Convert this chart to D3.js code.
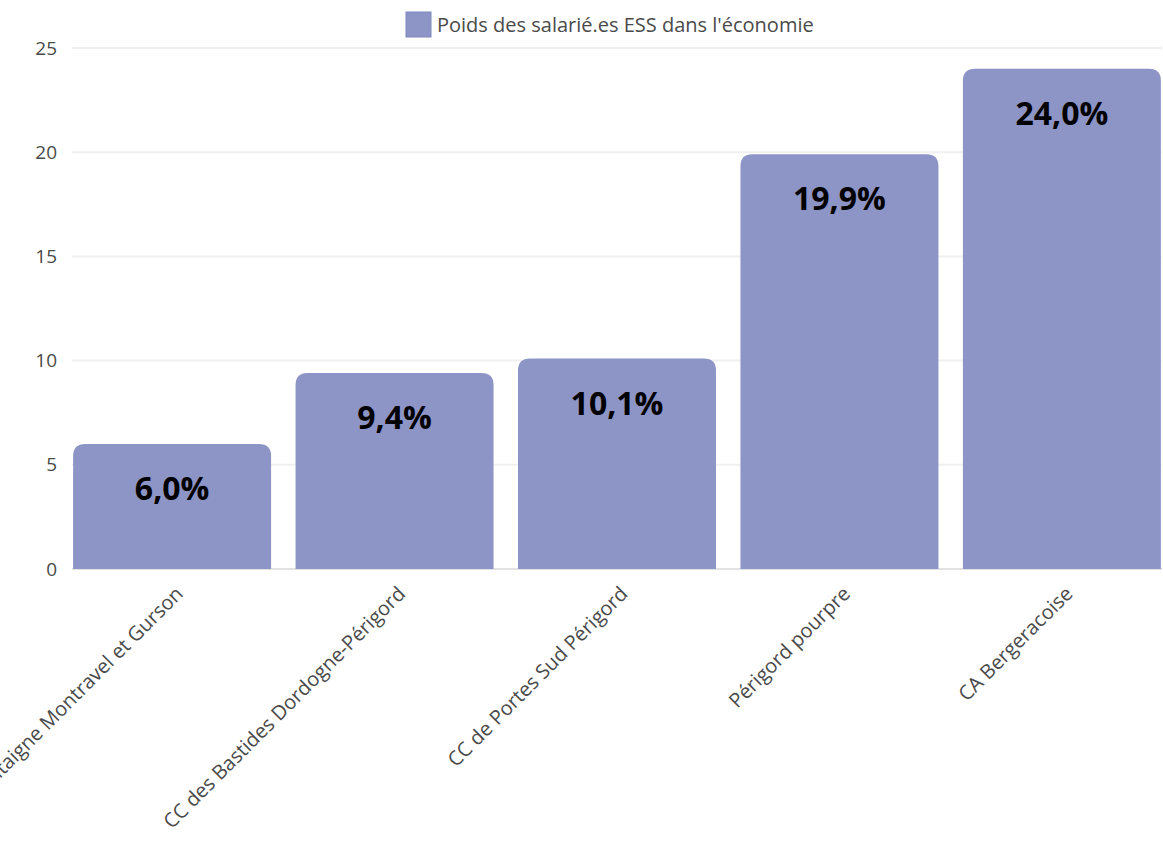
<!DOCTYPE html>
<html><head><meta charset="utf-8">
<script src="https://cdn.jsdelivr.net/npm/d3@7"></script>
<style>
body{margin:0;background:#fff;overflow:hidden;}
text{font-family:"Open Sans",sans-serif;}
</style></head>
<body><svg id="c" width="1163" height="857"></svg>
<script>
const categories = ["CC de Montaigne Montravel et Gurson","CC des Bastides Dordogne-Périgord","CC de Portes Sud Périgord","Périgord pourpre","CA Bergeracoise"];
const values = [6.0, 9.4, 10.1, 19.9, 24.0];
const yTicks = [0, 5, 10, 15, 20, 25];
const seriesName = "Poids des salarié.es ESS dans l'économie";

const svg = d3.select("#c");
const mLeft = 72, mRight = 1162, mTop = 48, mBottom = 569;
const x = d3.scaleBand().domain(categories).range([mLeft, mRight]).paddingInner(0.11).paddingOuter(0.005);
const y = d3.scaleLinear().domain([0, 25]).range([mBottom, mTop]);
const color = "#8d95c6";

// grid
svg.append("g").selectAll("line").data(yTicks).join("line")
  .attr("x1", mLeft).attr("x2", mRight)
  .attr("y1", d => y(d)).attr("y2", d => y(d))
  .attr("stroke", d => d === 0 ? "#e2e2e2" : "#f0f0f0").attr("stroke-width", 2);

// y axis
const yAxis = svg.append("g").attr("transform", `translate(${mLeft - 15},0)`)
  .call(d3.axisLeft(y).tickValues(yTicks).tickSize(0).tickPadding(0));
yAxis.select(".domain").remove();
yAxis.selectAll("text").attr("font-size", 19).attr("fill", "#4a4a4a").attr("font-family", "Open Sans");

// bars
const r = 12;
function barPath(d, i) {
  const x0 = x(categories[i]), w = x.bandwidth(), y0 = y(d), y1 = y(0);
  return `M${x0},${y1}V${y0 + r}Q${x0},${y0} ${x0 + r},${y0}H${x0 + w - r}Q${x0 + w},${y0} ${x0 + w},${y0 + r}V${y1}Z`;
}
svg.append("g").selectAll("path").data(values).join("path")
  .attr("d", barPath).attr("fill", color);

// value labels
svg.append("g").selectAll("text").data(values).join("text")
  .attr("x", (d, i) => x(categories[i]) + x.bandwidth() / 2)
  .attr("y", d => y(d) + 56)
  .attr("text-anchor", "middle")
  .attr("font-size", 32).attr("font-weight", "bold").attr("fill", "#000")
  .text(d => d.toFixed(1).replace(".", ",") + "%");

// x axis labels
const xAxis = svg.append("g").attr("transform", `translate(0,${mBottom})`)
  .call(d3.axisBottom(x).tickSize(0).tickPadding(0));
xAxis.select(".domain").remove();
xAxis.selectAll("text")
  .attr("font-size", 20).attr("fill", "#4a4a4a").attr("font-family", "Open Sans")
  .attr("text-anchor", "end")
  .attr("dy", null).attr("y", 0)
  .attr("transform", "translate(12,26) rotate(-45)");

// legend
const lg = svg.append("g");
lg.append("rect").attr("x", 406).attr("y", 12).attr("width", 25).attr("height", 25).attr("fill", color).attr("stroke", "#7f88bd").attr("stroke-width", 1);
lg.append("text").attr("x", 437).attr("y", 32).attr("font-size", 20).attr("fill", "#4a4a4a").text(seriesName);
</script>
</body></html>
